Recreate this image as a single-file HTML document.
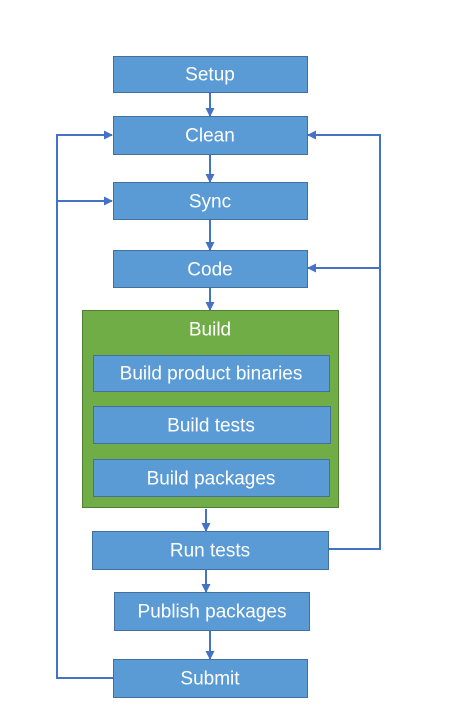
<!DOCTYPE html>
<html><head><meta charset="utf-8"><style>
html,body{margin:0;padding:0;background:#fff;}
svg{display:block;}
text{font-family:"Liberation Sans",sans-serif;font-size:19px;fill:#fff;text-anchor:middle;dominant-baseline:central;}
.b{fill:#5b9bd5;stroke:#41719c;stroke-width:1;}
.l{stroke:#4472c4;stroke-width:2;fill:none;}
</style></head><body>
<svg width="460" height="718" viewBox="0 0 460 718" xmlns="http://www.w3.org/2000/svg">
<defs><marker id="a" markerWidth="9" markerHeight="9" refX="8" refY="4.5" orient="auto" markerUnits="userSpaceOnUse"><path d="M0,0 L9,4.5 L0,9 z" fill="#4472c4"/></marker></defs>
<rect x="82.5" y="310.5" width="256" height="197" fill="#70ad47" stroke="#507e32"/>
<rect class="b" x="113.5" y="56.5" width="194" height="36"/><text x="210" y="75">Setup</text>
<rect class="b" x="113.5" y="116.5" width="194" height="38"/><text x="210" y="136">Clean</text>
<rect class="b" x="113.5" y="182.5" width="194" height="37"/><text x="210" y="202">Sync</text>
<rect class="b" x="113.5" y="250.5" width="194" height="37"/><text x="210" y="270">Code</text>
<text x="210" y="330">Build</text>
<rect class="b" x="93.5" y="355.5" width="236" height="36"/><text x="211" y="374">Build product binaries</text>
<rect class="b" x="93.5" y="406.5" width="237" height="37"/><text x="211" y="426">Build tests</text>
<rect class="b" x="93.5" y="459.5" width="236" height="37"/><text x="211" y="479">Build packages</text>
<rect class="b" x="92.5" y="531.5" width="236" height="38"/><text x="210" y="551">Run tests</text>
<rect class="b" x="114.5" y="592.5" width="195" height="38"/><text x="212" y="612">Publish packages</text>
<rect class="b" x="113.5" y="659.5" width="194" height="38"/><text x="210" y="679">Submit</text>
<line class="l" x1="210" y1="93" x2="210" y2="116" marker-end="url(#a)"/>
<line class="l" x1="210" y1="155" x2="210" y2="182" marker-end="url(#a)"/>
<line class="l" x1="210" y1="220" x2="210" y2="250" marker-end="url(#a)"/>
<line class="l" x1="210" y1="288" x2="210" y2="310" marker-end="url(#a)"/>
<line class="l" x1="206" y1="509" x2="206" y2="531" marker-end="url(#a)"/>
<line class="l" x1="206" y1="570" x2="206" y2="592" marker-end="url(#a)"/>
<line class="l" x1="210" y1="631" x2="210" y2="659" marker-end="url(#a)"/>
<polyline class="l" points="113,678 57,678 57,135 112,135" marker-end="url(#a)"/>
<line class="l" x1="57" y1="201" x2="112" y2="201" marker-end="url(#a)"/>
<polyline class="l" points="329,549 380,549 380,135 308,135" marker-end="url(#a)"/>
<line class="l" x1="380" y1="268" x2="308" y2="268" marker-end="url(#a)"/>
</svg>
</body></html>
